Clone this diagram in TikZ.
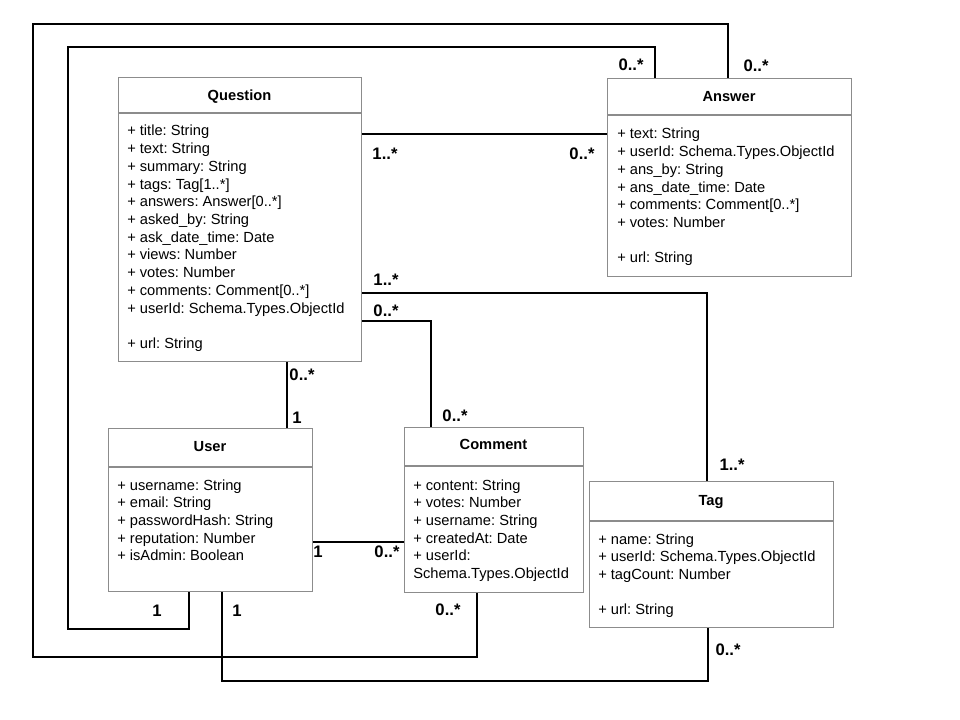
\documentclass[tikz,border=0pt]{standalone}
\usepackage{fontspec}
\setmainfont{Liberation Sans}
\frenchspacing
\definecolor{boxgray}{gray}{0.55}
\begin{document}
\begin{tikzpicture}[x=0.75pt,y=-0.75pt,
  classbox/.style={draw=boxgray, fill=white, line width=0.8pt, inner sep=0pt, anchor=north west},
  sepline/.style={draw=boxgray, line width=0.8pt},
  classname/.style={font=\bfseries\fontsize{11}{13}\selectfont, anchor=base, inner sep=0pt},
  attr/.style={font=\fontsize{11}{13}\selectfont, anchor=base west, inner sep=0pt},
  mult/.style={font=\bfseries\fontsize{12.5}{14}\selectfont, inner sep=0pt, anchor=center},
  link/.style={draw=black, line width=0.95pt}]

\useasboundingbox[fill=white] (0,0) rectangle (960,720);

% ---------- classes ----------
\node[classbox, minimum width=182.25pt, minimum height=213pt] (q) at (118,77) {};
\node[classbox, minimum width=183pt, minimum height=148.5pt] (a) at (607,78) {};
\node[classbox, minimum width=153pt, minimum height=122.25pt] (u) at (108,428) {};
\node[classbox, minimum width=134.25pt, minimum height=123.75pt] (c) at (404,427) {};
\node[classbox, minimum width=183pt, minimum height=109.5pt] (t) at (589,481) {};

% header separators
\draw[sepline] (q.west |- 0,113) -- (q.east |- 0,113);
\draw[sepline] (a.west |- 0,115) -- (a.east |- 0,115);
\draw[sepline] (u.west |- 0,467) -- (u.east |- 0,467);
\draw[sepline] (c.west |- 0,466) -- (c.east |- 0,466);
\draw[sepline] (t.west |- 0,521) -- (t.east |- 0,521);

% class names
\node[classname] (qname) at (239.5,100.5) {Question};
\node[classname] (aname) at (729,101.5) {Answer};
\node[classname] (uname) at (210,451.5) {User};
\node[classname] (cname) at (493.5,449.5) {Comment};
\node[classname] (tname) at (711,505.5) {Tag};

% attributes
\foreach \txt [count=\i from 0] in {{+ title: String},{+ text: String},{+ summary: String},
  {+ tags: Tag[1..*]},{+ answers: Answer[0..*]},{+ asked\_by: String},
  {+ ask\_date\_time: Date},{+ views: Number},{+ votes: Number},
  {+ comments: Comment[0..*]},{+ userId: Schema.Types.ObjectId},{},{+ url: String}}
  \node[attr] at (127,136+17.7*\i) {\txt};

\foreach \txt [count=\i from 0] in {{+ text: String},{+ userId: Schema.Types.ObjectId},
  {+ ans\_by: String},{+ ans\_date\_time: Date},{+ comments: Comment[0..*]},
  {+ votes: Number},{},{+ url: String}}
  \node[attr] at (617,139+17.7*\i) {\txt};

\foreach \txt [count=\i from 0] in {{+ username: String},{+ email: String},
  {+ passwordHash: String},{+ reputation: Number},{+ isAdmin: Boolean}}
  \node[attr] at (117,490+17.7*\i) {\txt};

\foreach \txt [count=\i from 0] in {{+ content: String},{+ votes: Number},
  {+ username: String},{+ createdAt: Date},{+ userId:},{Schema.Types.ObjectId}}
  \node[attr] at (413,490+17.7*\i) {\txt};

\foreach \txt [count=\i from 0] in {{+ name: String},{+ userId: Schema.Types.ObjectId},
  {+ tagCount: Number},{},{+ url: String}}
  \node[attr] at (598,544+17.7*\i) {\txt};

% ---------- associations ----------
\draw[link] (q.east |- 0,134) -- (a.west |- 0,134);
\draw[link] (q.east |- 0,293) -| (t.north -| 707,0);
\draw[link] (q.east |- 0,321) -| (c.north -| 431,0);
\draw[link] (q.south -| 287,0) -- (u.north -| 287,0);
\draw[link] (u.east |- 0,542) -- (c.west |- 0,542);
\draw[link] (u.south -| 189,0) |- (68,629) |- (655,47) -- (a.north -| 655,0);
\draw[link] (a.north -| 728,0) |- (33,24) |- (477,657) -- (c.south -| 477,0);
\draw[link] (u.south -| 222,0) |- (708,681) -- (t.south -| 708,0);

% multiplicities
\node[mult] (m1) at (385,154) {1..*};
\node[mult] (m2) at (582,154) {0..*};
\node[mult] (m3) at (386,280) {1..*};
\node[mult] (m4) at (386,311) {0..*};
\node[mult] (m5) at (302,375) {0..*};
\node[mult] (m6) at (297,418) {1};
\node[mult] (m7) at (455,416) {0..*};
\node[mult] (m8) at (732,465) {1..*};
\node[mult] (m9) at (318,552) {1};
\node[mult] (m10) at (387,552) {0..*};
\node[mult] (m11) at (157,611) {1};
\node[mult] (m12) at (237,611) {1};
\node[mult] (m13) at (448,610) {0..*};
\node[mult] (m14) at (728,650) {0..*};
\node[mult] (m15) at (631,65) {0..*};
\node[mult] (m16) at (756,66) {0..*};

\end{tikzpicture}
\end{document}
